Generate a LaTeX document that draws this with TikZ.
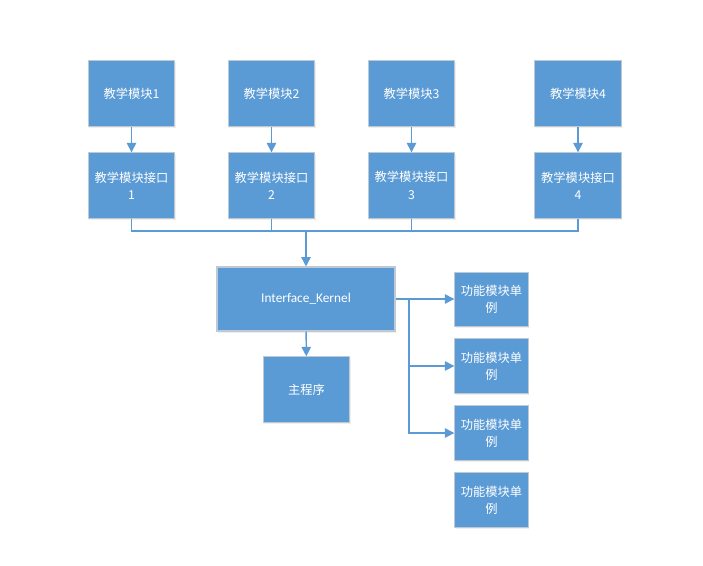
\documentclass[tikz,border=0pt]{standalone}
\usepackage{fontspec}
\setmainfont{Carlito}
\newfontfamily\cjk{Noto Sans CJK SC}
\usepackage{xcolor}
\usepackage{tikz}
\usetikzlibrary{arrows.meta,positioning,calc,shadows}
\definecolor{modblue}{HTML}{5B9BD5}
\definecolor{modedge}{HTML}{BFC9D3}
\tikzset{
  modbox/.style={
    draw=modedge,
    line width=0.8pt,
    fill=modblue,
    text=white,
    align=center,
    inner sep=2pt,
    font=\cjk\fontsize{9.2}{13}\selectfont,
    drop shadow={opacity=0.12, shadow xshift=0.6pt, shadow yshift=-1.2pt}
  },
  flowline/.style={
    line width=1.1pt,
    draw=modblue
  },
  flowarrow/.style={
    flowline,
    -{Triangle[length=7pt,width=7pt]}
  }
}

\begin{document}
\begin{tikzpicture}[x=0.75pt,y=-0.75pt]
  \useasboundingbox (0,0) rectangle (703,565);
  \fill[white] (0,0) rectangle (703,565);

  % teaching modules and their interfaces
  \foreach \i/\x in {1/131.5,2/271.5,3/411.5,4/578} {
    \node[modbox, minimum width=65pt, minimum height=50pt] (mod\i) at (\x,93.5) {教学模块\i};
    \node[modbox, minimum width=65pt, minimum height=49pt] (port\i) at (\x,185.5) {教学模块接口\\\i};
    \draw[flowarrow] (mod\i) -- (port\i);
  }

  \node[modbox, minimum width=133.5pt, minimum height=48pt, font=\fontsize{10}{12}\selectfont] (kernel) at (306,299) {Interface\_Kernel};
  \node[modbox, minimum width=65pt, minimum height=49pt] (main) at (306.5,389.5) {主程序};

  % function module singletons
  \foreach \j/\y in {1/299.5,2/366,3/433,4/500} {
    \node[modbox, minimum width=55pt, minimum height=41pt] (func\j) at (491.5,\y) {功能模块单\\例};
  }

  % bus from interfaces into the kernel
  \coordinate (bus) at (306,231);
  \draw[flowline] (port1.south) |- (bus) -| (port4.south);
  \draw[flowline] (port2.south) -- (port2.south |- bus);
  \draw[flowline] (port3.south) -- (port3.south |- bus);
  \draw[flowarrow] (bus) -- (kernel.north);
  \draw[flowarrow] (kernel) -- (main);

  % kernel to the singletons
  \coordinate (trunk) at (409,299);
  \draw[flowarrow] (kernel.east) -- (func1.west |- kernel.east);
  \draw[flowline] (trunk) -- (409,433);
  \draw[flowarrow] (trunk) |- (func2.west);
  \draw[flowarrow] (trunk) |- (func3.west);
\end{tikzpicture}
\end{document}
